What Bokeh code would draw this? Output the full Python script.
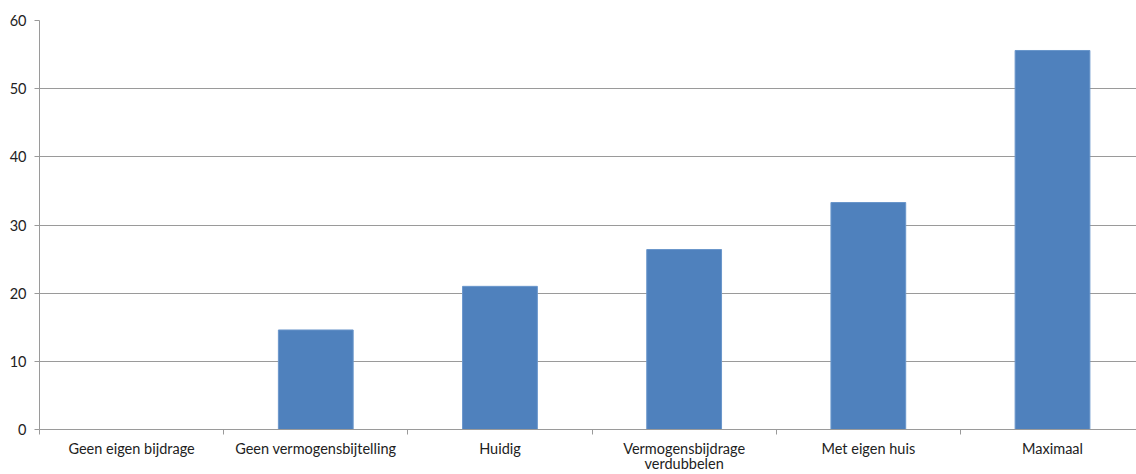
from bokeh.plotting import figure
from bokeh.models import Range1d, FixedTicker, LinearAxis
from bokeh.embed import file_html
from bokeh.resources import INLINE

categories = ["Geen eigen bijdrage", "Geen vermogensbijtelling", "Huidig",
              "Vermogensbijdrage verdubbelen", "Met eigen huis", "Maximaal"]
values = [0.0, 14.6, 21.0, 26.4, 33.3, 55.6]
y_ticks = [0, 10, 20, 30, 40, 50, 60]

xs = [i + 0.5 for i in range(len(categories))]

GREY = "#9A9A9A"
FONT = "Lato"
FSIZE = "14.5px"
TXT = "#222222"

p = figure(width=1136, height=474, output_backend="svg", toolbar_location=None,
           x_range=Range1d(0, 5.956), y_range=Range1d(0, 60),
           min_border_left=39, min_border_right=0, min_border_top=20, min_border_bottom=45)
p.outline_line_color = None
p.background_fill_color = "white"
p.border_fill_color = "white"

p.vbar(x=xs, top=values, width=0.406, fill_color="#4F81BD", line_color="#6A96CB", line_width=1)

# x axis labels wrapped as in the reference: first line on the main axis,
# wrapped remainder on a second, line-less axis directly below
first_lines = []
second_lines = {}
for x, c in zip(xs, categories):
    if c == "Vermogensbijdrage verdubbelen":
        a, b = c.split(" ", 1)
        first_lines.append(a)
        second_lines[x] = b
    else:
        first_lines.append(c)

p.xaxis.ticker = FixedTicker(ticks=xs, minor_ticks=list(range(0, 7)))
p.xaxis.major_label_overrides = {x: c for x, c in zip(xs, first_lines)}
p.xaxis.major_tick_out = 0
p.xaxis.major_tick_in = 0
p.xaxis.minor_tick_out = 5
p.xaxis.minor_tick_in = 0
p.xaxis.minor_tick_line_color = GREY
p.xaxis.axis_line_color = GREY
p.xaxis.major_label_text_font = FONT
p.xaxis.major_label_text_font_size = FSIZE
p.xaxis.major_label_text_color = TXT
p.xaxis.major_label_standoff = 5

ax2 = LinearAxis(ticker=FixedTicker(ticks=list(second_lines.keys()), minor_ticks=[]),
                 major_label_overrides=second_lines,
                 axis_line_color=None, major_tick_line_color=None,
                 major_tick_out=0, major_tick_in=0, minor_tick_out=0, minor_tick_in=0,
                 major_label_standoff=-5,
                 major_label_text_font=FONT, major_label_text_font_size=FSIZE,
                 major_label_text_color=TXT)
p.add_layout(ax2, "below")

# y axis
p.yaxis.ticker = FixedTicker(ticks=y_ticks, minor_ticks=[])
p.yaxis.major_tick_out = 5
p.yaxis.major_tick_in = 0
p.yaxis.major_tick_line_color = GREY
p.yaxis.axis_line_color = GREY
p.yaxis.major_label_text_font = FONT
p.yaxis.major_label_text_font_size = FSIZE
p.yaxis.major_label_text_color = TXT
p.yaxis.major_label_standoff = 8

p.xgrid.grid_line_color = None
p.ygrid.ticker = FixedTicker(ticks=y_ticks)
p.ygrid.grid_line_color = GREY
p.ygrid.grid_line_width = 1

open("out.html", "w").write(file_html(p, INLINE))
